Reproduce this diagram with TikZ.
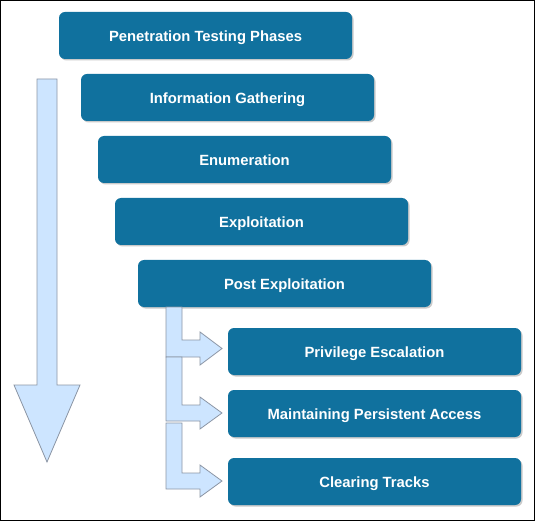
\documentclass[tikz,border=0pt]{standalone}
\usepackage{fontspec}
\setmainfont{Liberation Sans}
\usetikzlibrary{shadows}
\definecolor{boxblue}{RGB}{16,113,158}
\definecolor{arrowfill}{RGB}{205,229,255}
\definecolor{arrowline}{RGB}{140,150,165}
\tikzset{
  phase/.style={rectangle, rounded corners=6pt, fill=boxblue, draw=none,
    minimum width=293pt, minimum height=47pt, inner sep=0pt,
    text height=12.6pt, text depth=0pt,
    text=white, font=\fontsize{14.8}{17}\selectfont\bfseries,
    drop shadow={shadow xshift=1.5pt, shadow yshift=-1.5pt, fill=black!35, opacity=0.6}},
  blockarrow/.style={fill=arrowfill, draw=arrowline, line width=0.8pt, line join=miter}
}
\begin{document}
\begin{tikzpicture}[x=1pt,y=-1pt]
\useasboundingbox (0,0) rectangle (535,521);
\draw[black, line width=1pt] (0.5,0.5) rectangle (534.5,520.5);
% big downward arrow
\draw[blockarrow] (37,79) -- (57,79) -- (57,385) -- (80,385) -- (47,462) -- (14,385) -- (37,385) -- cycle;
% nodes
\node[phase] (p1) at (205.5,35.5) {Penetration Testing Phases};
\node[phase] (p2) at (227.5,97.5) {Information Gathering};
\node[phase] (p3) at (244.5,159.5) {Enumeration};
\node[phase] (p4) at (261.5,221.5) {Exploitation};
\node[phase] (p5) at (284.5,283.5) {Post Exploitation};
\node[phase] (s1) at (374.5,351.5) {Privilege Escalation};
\node[phase] (s2) at (374.5,413.5) {Maintaining Persistent Access};
\node[phase] (s3) at (374.5,481.5) {Clearing Tracks};
% bent arrows
\draw[blockarrow] (166,307) -- (182,307) -- (182,340) -- (200,340) -- (200,332) -- (222,348.5) -- (200,365) -- (200,357) -- (166,357) -- cycle;
\draw[blockarrow] (166,357) -- (182,357) -- (182,405) -- (200,405) -- (200,397) -- (222,413) -- (200,429) -- (200,421) -- (166,421) -- cycle;
\draw[blockarrow] (166,423) -- (182,423) -- (182,473) -- (200,473) -- (200,465) -- (222,481) -- (200,497) -- (200,489) -- (166,489) -- cycle;
\end{tikzpicture}
\end{document}
